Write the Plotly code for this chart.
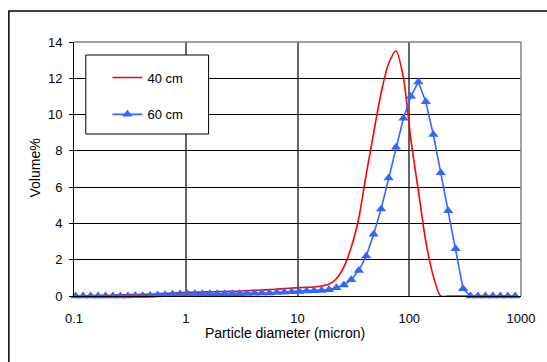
import plotly.graph_objects as go

# Particle diameter (micron) – size classes
diameter = [0.1035, 0.1207, 0.1407, 0.1641, 0.1913, 0.2230, 0.2600, 0.3031, 0.3535, 0.4121,
            0.4805, 0.5602, 0.6531, 0.7615, 0.8878, 1.035, 1.207, 1.407, 1.641, 1.913,
            2.230, 2.600, 3.031, 3.535, 4.121, 4.805, 5.602, 6.531, 7.615, 8.878,
            10.35, 12.07, 14.07, 16.41, 19.13, 22.30, 26.00, 30.31, 35.35, 41.21,
            48.05, 56.02, 65.31, 76.15, 88.78, 103.5, 120.7, 140.7, 164.1, 191.3,
            223.0, 260.0, 303.1, 353.5, 412.1, 480.5, 560.2, 653.1, 761.5, 887.8]

vol_40cm = [0, 0.01, 0.02, 0.03, 0.04, 0.05, 0.06, 0.07, 0.08, 0.09,
            0.10, 0.12, 0.14, 0.16, 0.18, 0.20, 0.21, 0.22, 0.23, 0.24,
            0.25, 0.26, 0.27, 0.29, 0.31, 0.33, 0.35, 0.38, 0.41, 0.44,
            0.46, 0.48, 0.50, 0.55, 0.65, 0.95, 1.6, 2.7, 4.3, 6.7,
            9.0, 11.2, 12.8, 13.5, 12.0, 8.6, 5.8, 3.0, 1.1, 0.0,
            0, 0, 0, 0, 0, 0, 0, 0, 0, 0]

vol_60cm = [0, 0, 0, 0, 0, 0, 0, 0, 0.01, 0.02,
            0.03, 0.05, 0.07, 0.09, 0.11, 0.12, 0.12, 0.12, 0.12, 0.12,
            0.12, 0.13, 0.13, 0.14, 0.15, 0.16, 0.17, 0.19, 0.21, 0.23,
            0.25, 0.27, 0.29, 0.30, 0.35, 0.45, 0.6, 0.9, 1.4, 2.2,
            3.4, 4.8, 6.5, 8.2, 9.8, 11.0, 11.8, 10.7, 8.9, 6.8,
            4.7, 2.6, 0.4, 0, 0, 0, 0, 0, 0, 0]

series_names = ["40 cm", "60 cm"]
x_tickvals = [0.1, 1, 10, 100, 1000]
x_ticktext = ["0.1", "1", "10", "100", "1000"]
y_tickvals = [0, 2, 4, 6, 8, 10, 12, 14]
x_title = "Particle diameter (micron)"
y_title = "Volume%"

FONT = "Arial, Liberation Sans, sans-serif"

fig = go.Figure()
fig.add_trace(go.Scatter(
    x=diameter, y=vol_40cm, name=series_names[0], mode="lines",
    line=dict(color="#FF0000", width=1.6, shape="spline", smoothing=0.8),
    legendgroup="a", cliponaxis=False,
))
fig.add_trace(go.Scatter(
    x=diameter, y=vol_60cm, name=series_names[1], mode="lines+markers",
    line=dict(color="#3366FF", width=1.6),
    marker=dict(symbol="triangle-up", size=9, color="#3366FF"),
    legendgroup="b", cliponaxis=False,
))

W, H = 547, 362
L, R, T, B = 74, 18, 42, 66
pw, ph = W - L - R, H - T - B

def px_x(p):
    return (p - L) / pw

def px_y(p):
    return (H - B - p) / ph

fig.update_layout(
    width=W, height=H,
    margin=dict(l=L, r=R, t=T, b=B),
    paper_bgcolor="white", plot_bgcolor="white",
    font=dict(family=FONT, size=13, color="black"),
    showlegend=True,
    legend=dict(
        x=px_x(108), y=px_y(62.5), xanchor="left", yanchor="top",
        bgcolor="rgba(0,0,0,0)", borderwidth=0,
        traceorder="grouped", tracegroupgap=17,
        font=dict(family=FONT, size=13, color="black"),
    ),
    xaxis=dict(
        type="log", range=[-1, 3],
        tickvals=x_tickvals, ticktext=x_ticktext,
        showgrid=True, gridcolor="#666666", gridwidth=1.5,
        showline=True, linecolor="black", linewidth=1,
        ticks="", ticklabelstandoff=10,
        zeroline=False,
    ),
    yaxis=dict(
        range=[0, 14], tickvals=y_tickvals,
        showgrid=True, gridcolor="black", gridwidth=1,
        showline=True, linecolor="black", linewidth=1,
        ticks="outside", ticklen=4, tickcolor="black", ticklabelstandoff=4,
        zeroline=False,
    ),
    annotations=[
        dict(text=x_title, xref="paper", yref="paper", x=px_x(288.7), y=px_y(333),
             xanchor="center", yanchor="middle", showarrow=False,
             font=dict(family=FONT, size=14, color="black")),
        dict(text=y_title, xref="paper", yref="paper", x=px_x(33.8), y=px_y(168),
             xanchor="center", yanchor="middle", showarrow=False, textangle=-90,
             font=dict(family=FONT, size=14, color="black")),
    ],
    shapes=[
        # outer chart frame
        dict(type="rect", xref="paper", yref="paper",
             x0=px_x(7.7), x1=px_x(570), y0=px_y(380), y1=px_y(11),
             line=dict(color="black", width=1.5), fillcolor="rgba(0,0,0,0)", layer="above"),
        # plot-area border (top / right grey)
        dict(type="line", xref="paper", yref="paper", x0=0, x1=1, y0=1, y1=1,
             line=dict(color="#808080", width=1.5), layer="above"),
        dict(type="line", xref="paper", yref="paper", x0=1, x1=1, y0=0, y1=1,
             line=dict(color="#808080", width=1.5), layer="above"),
        # legend box
        dict(type="rect", xref="paper", yref="paper",
             x0=px_x(86), x1=px_x(211), y0=px_y(134), y1=px_y(55),
             line=dict(color="black", width=1), fillcolor="white", layer="above"),
    ],
)

fig.write_html("out.html", config={"displayModeBar": False},
               post_script="document.body.style.margin='0px';")
